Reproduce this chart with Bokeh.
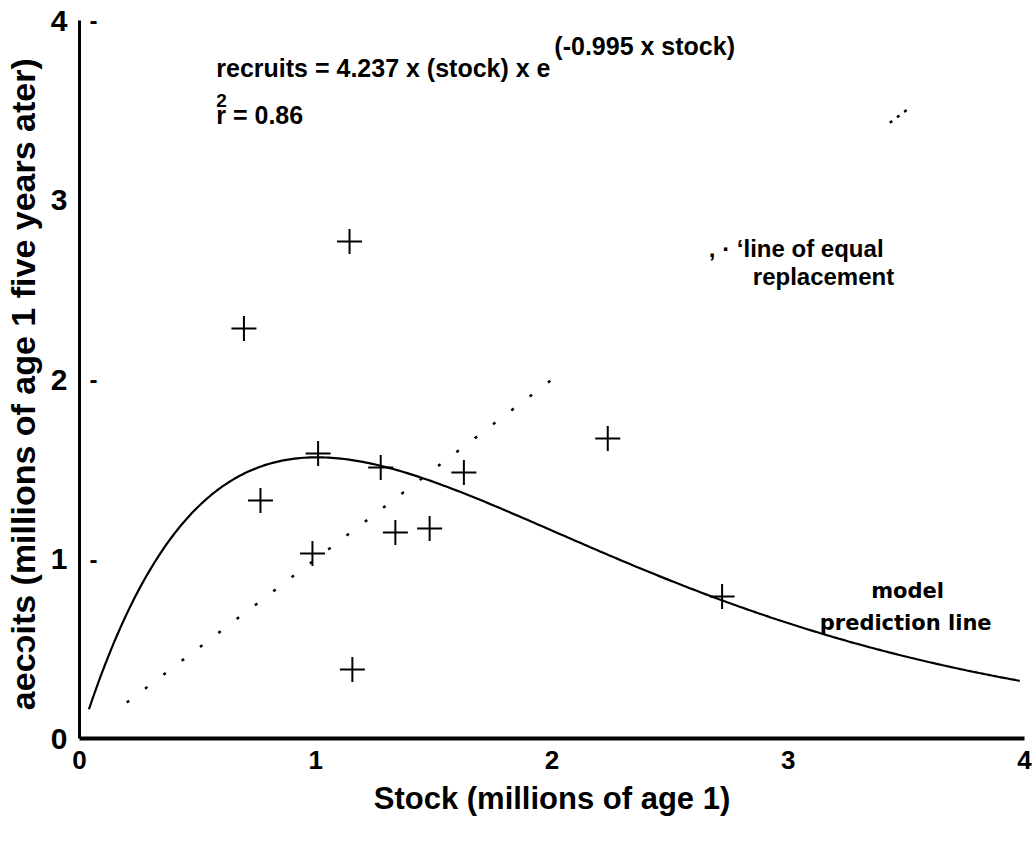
import numpy as np
from bokeh.plotting import figure
from bokeh.models import FixedTicker, Label, ColumnDataSource
from bokeh.core.properties import value
from bokeh.embed import file_html
from bokeh.resources import INLINE

# Observed stock (millions of age 1) and recruits five years later
stock = [0.696, 1.143, 0.766, 1.010, 1.275, 1.627, 0.986, 1.337, 1.482, 1.155, 2.236, 2.720]
recruits = [2.284, 2.769, 1.326, 1.588, 1.510, 1.482, 1.031, 1.148, 1.170, 0.384, 1.671, 0.791]

# Ricker model coefficients from the fitted equation
ricker_a = 4.237
ricker_b = 0.995

# Line of equal replacement (recruits = stock), drawn dotted
replace_x = [0.2, 2.05]
replace_x2 = [3.43, 3.52]

# Axis ticks
x_ticks = [0, 1, 2, 3, 4]
y_ticks = [0, 1, 2, 3, 4]
y_tick_dashes = [1, 2, 4]

SANS = "Liberation Sans"

p = figure(width=1032, height=845, output_backend="svg", toolbar_location=None,
           x_range=(0, 4), y_range=(0, 4),
           min_border_left=78, min_border_right=8, min_border_top=20, min_border_bottom=107)
p.background_fill_color = "white"
p.border_fill_color = "white"
p.outline_line_color = None
p.grid.visible = False

# x axis
p.xaxis.ticker = FixedTicker(ticks=x_ticks)
p.xaxis.axis_line_width = 4
p.xaxis.axis_line_color = "black"
p.xaxis.major_tick_out = 0
p.xaxis.major_tick_in = 0
p.xaxis.minor_tick_out = 0
p.xaxis.minor_tick_in = 0
p.xaxis.major_label_standoff = 12
p.xaxis.major_label_text_font = SANS
p.xaxis.major_label_text_font_style = "bold"
p.xaxis.major_label_text_font_size = "26px"
p.xaxis.major_label_text_color = "black"
p.xaxis.axis_label = "Stock (millions of age 1)"
p.xaxis.axis_label_text_font = SANS
p.xaxis.axis_label_text_font_style = "bold"
p.xaxis.axis_label_text_font_size = "31px"
p.xaxis.axis_label_text_color = "black"
p.xaxis.axis_label_standoff = 9

# y axis
p.yaxis.ticker = FixedTicker(ticks=y_ticks)
p.yaxis.axis_line_width = 3
p.yaxis.axis_line_color = "black"
p.yaxis.major_tick_out = 0
p.yaxis.major_tick_in = 0
p.yaxis.minor_tick_out = 0
p.yaxis.minor_tick_in = 0
p.yaxis.major_label_standoff = 12
p.yaxis.major_label_text_font = SANS
p.yaxis.major_label_text_font_style = "bold"
p.yaxis.major_label_text_font_size = "30px"
p.yaxis.major_label_text_color = "black"
p.yaxis.axis_label = "aec\u0254its (millions of age 1 five years  ater)"
p.yaxis.axis_label_text_font = SANS
p.yaxis.axis_label_text_font_style = "bold"
p.yaxis.axis_label_text_font_size = "34px"
p.yaxis.axis_label_text_color = "black"
p.yaxis.axis_label_standoff = 6

# short tick dashes just inside the y axis
p.text(x=[0] * len(y_tick_dashes), y=y_tick_dashes, text=["-"] * len(y_tick_dashes),
       x_offset=14, text_align="center", text_baseline="middle",
       text_font=value(SANS), text_font_style="bold", text_font_size="24px",
       text_color="black")

# model prediction curve
s = np.linspace(0.04, 3.98, 300)
r = ricker_a * s * np.exp(-ricker_b * s)
p.line(s, r, line_color="black", line_width=2.2)

# line of equal replacement
p.line(replace_x, replace_x, line_color="black", line_width=2.5, line_dash="3 20")
p.line(replace_x2, replace_x2, line_color="black", line_width=2.5, line_dash="3 6")

# observations
src = ColumnDataSource(dict(stock=stock, recruits=recruits))
p.scatter("stock", "recruits", source=src, marker="cross", size=25,
          line_color="black", line_width=2)

def add_label(x, y, text, font=SANS, size="25px", align="left", baseline="middle"):
    p.add_layout(Label(x=x, y=y, text=text, text_font=font, text_font_style="bold",
                       text_font_size=size, text_color="black",
                       text_align=align, text_baseline=baseline))

add_label(0.579, 3.733, "recruits = 4.237 x (stock) x e", baseline="alphabetic")
add_label(2.010, 3.860, "(-0.995 x stock)", baseline="alphabetic")
add_label(0.579, 3.554, "2", size="19px")
add_label(0.579, 3.471, "r = 0.86")
add_label(2.664, 2.730, ", \u00b7 \u2018line of equal", size="24px")
add_label(2.850, 2.574, "replacement", size="24px")
add_label(3.505, 0.8245, "model", font="DejaVu Sans", size="21px", align="center")
add_label(3.497, 0.646, "prediction line", font="DejaVu Sans", size="21px", align="center")

open("out.html", "w").write(file_html(p, INLINE))
